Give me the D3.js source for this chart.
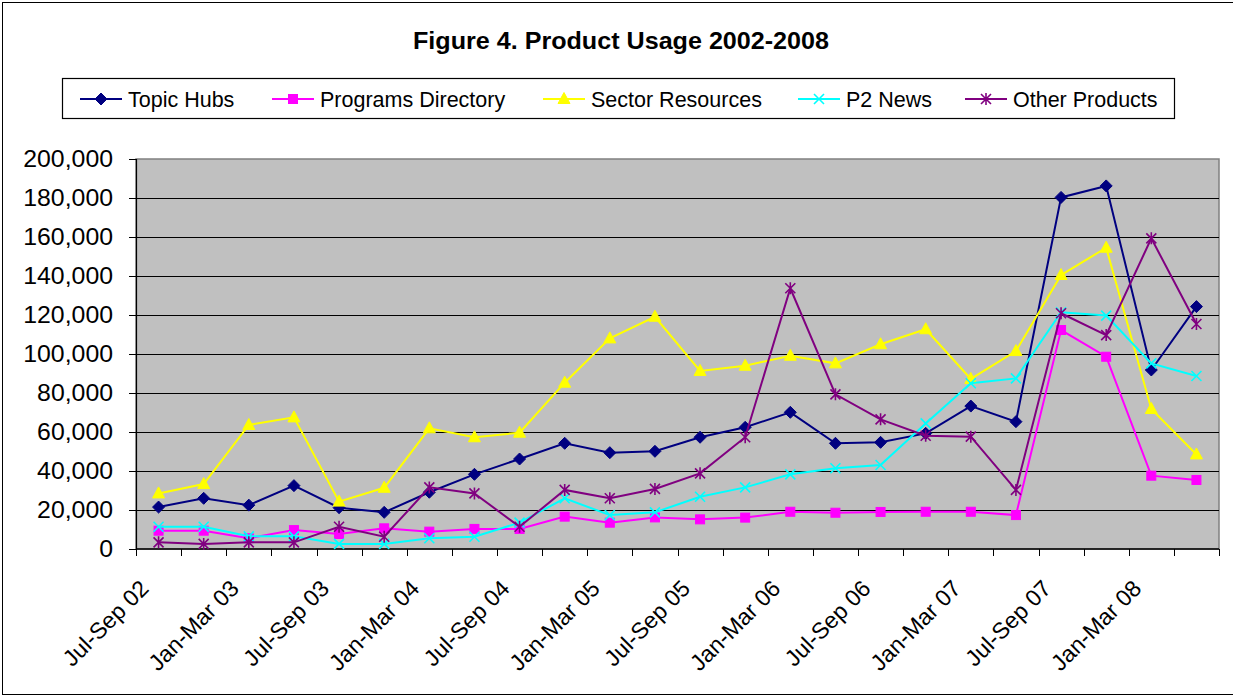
<!DOCTYPE html>
<html>
<head>
<meta charset="utf-8">
<script src="https://cdn.jsdelivr.net/npm/d3@7"></script>
<style>
  html, body { margin: 0; padding: 0; background: #fff; }
  svg { display: block; font-family: Arial, "Liberation Sans", sans-serif; }
</style>
</head>
<body>
<svg id="chart" width="1233" height="697"></svg>
<script>
const categories = [
  "Jul-Sep 02","Oct-Dec 02","Jan-Mar 03","Apr-Jun 03","Jul-Sep 03","Oct-Dec 03",
  "Jan-Mar 04","Apr-Jun 04","Jul-Sep 04","Oct-Dec 04","Jan-Mar 05","Apr-Jun 05",
  "Jul-Sep 05","Oct-Dec 05","Jan-Mar 06","Apr-Jun 06","Jul-Sep 06","Oct-Dec 06",
  "Jan-Mar 07","Apr-Jun 07","Jul-Sep 07","Oct-Dec 07","Jan-Mar 08","Apr-Jun 08"
];
const labeledCategories = categories.filter((d, i) => i % 2 === 0);

const topicHubs = [21500,26000,22500,32500,21200,18800,29100,38300,46150,54200,49400,50100,
  57300,62400,70100,54200,54700,59300,73300,65300,180300,186200,91800,124300];
const programsDirectory = [9400,9400,5500,9700,7700,10600,8900,10300,10300,16600,13500,16200,
  15200,16100,19100,18600,19000,19100,19100,17400,112300,98600,37600,35400];
const sectorResources = [28500,33300,63600,67500,24300,31400,61900,57300,59650,85300,108000,119100,
  91300,94000,99100,95200,105000,112700,87200,101500,140500,154500,71800,48500];
const p2News = [11400,11400,6500,6500,2600,2600,5500,6300,13500,26000,17400,18800,
  26800,31600,38300,41400,43100,64400,85000,87500,121400,119700,95200,88700];
const otherProducts = [3400,2600,3400,3400,11400,6300,31600,28500,11400,30300,26000,30800,
  38800,57300,133700,79300,66500,58100,57600,30300,120900,109700,159300,115400];

const yTicks = [0,20000,40000,60000,80000,100000,120000,140000,160000,180000,200000];

const seriesNames = ["Topic Hubs","Programs Directory","Sector Resources","P2 News","Other Products"];
const seriesColors = ["#000080","#FF00FF","#FFFF00","#00FFFF","#800080"];
const seriesMarkers = ["diamond","square","triangle","x","star"];
const seriesValues = [topicHubs, programsDirectory, sectorResources, p2News, otherProducts];

const title = "Figure 4. Product Usage 2002-2008";

const svg = d3.select("#chart");
const plot = {left: 136, right: 1219, top: 159, bottom: 549};

// outer frame
svg.append("rect").attr("x", 2.5).attr("y", 2.5).attr("width", 1240).attr("height", 692)
  .attr("fill", "#fff").attr("stroke", "#000").attr("stroke-width", 1);

// title
svg.append("text").attr("x", 621).attr("y", 49).attr("text-anchor", "middle")
  .attr("font-size", 24).attr("font-weight", "bold")
  .attr("textLength", 416).attr("lengthAdjust", "spacingAndGlyphs").text(title);

const x = d3.scaleBand().domain(categories).range([plot.left, plot.right]).paddingInner(0).paddingOuter(0);
const y = d3.scaleLinear().domain([0, 200000]).range([plot.bottom, plot.top]);

// plot area
svg.append("rect").attr("x", plot.left).attr("y", plot.top)
  .attr("width", plot.right - plot.left).attr("height", plot.bottom - plot.top)
  .attr("fill", "#C0C0C0").attr("stroke", "#808080").attr("stroke-width", 1.5);

// gridlines
svg.append("g").selectAll("line").data(yTicks.filter(v => v > 0 && v < 200000)).join("line")
  .attr("x1", plot.left).attr("x2", plot.right)
  .attr("y1", d => Math.round(y(d)) + 0.5).attr("y2", d => Math.round(y(d)) + 0.5)
  .attr("stroke", "#000").attr("stroke-width", 1.2);

// y axis
const yAxis = d3.axisLeft(y).tickValues(yTicks).tickSize(7).tickPadding(16)
  .tickFormat(d3.format(","));
const gy = svg.append("g").attr("transform", `translate(${plot.left},0)`).call(yAxis);
gy.select(".domain").attr("stroke", "#000").attr("stroke-width", 1.2);
gy.selectAll(".tick line").attr("stroke", "#000");
gy.selectAll(".tick text").attr("font-size", 23).attr("fill", "#000")
  .attr("font-family", "Arial, 'Liberation Sans', sans-serif")
  .attr("x", 0).attr("transform", "translate(-23,0) scale(1.08,1)");

// x axis: ticks at category boundaries
const boundaries = d3.range(categories.length + 1).map(i => plot.left + i * x.bandwidth());
const gx = svg.append("g");
gx.append("line").attr("x1", plot.left).attr("x2", plot.right)
  .attr("y1", plot.bottom).attr("y2", plot.bottom).attr("stroke", "#000").attr("stroke-width", 1.5);
gx.selectAll("line.tk").data(boundaries).join("line").attr("class", "tk")
  .attr("x1", d => Math.round(d) + 0.5).attr("x2", d => Math.round(d) + 0.5)
  .attr("y1", plot.bottom).attr("y2", plot.bottom + 7).attr("stroke", "#000");
gx.selectAll("text").data(labeledCategories).join("text")
  .attr("transform", d => `translate(${x(d) + x.bandwidth() / 2 - 8.5},${plot.bottom + 41}) rotate(-45)`)
  .attr("text-anchor", "end").attr("font-size", 23).attr("fill", "#000").text(d => d);

// lines & markers
const cx = c => x(c) + x.bandwidth() / 2;
const line = d3.line().x((d, i) => cx(categories[i])).y(d => y(d));

function drawMarker(g, type, color, px, py) {
  const s = 5;
  if (type === "diamond") {
    g.append("path").attr("d", `M${px},${py - s - 1}L${px + s + 1},${py}L${px},${py + s + 1}L${px - s - 1},${py}Z`)
      .attr("fill", color).attr("stroke", color);
  } else if (type === "square") {
    g.append("rect").attr("x", px - 4.5).attr("y", py - 4.5).attr("width", 9).attr("height", 9)
      .attr("fill", color).attr("stroke", color);
  } else if (type === "triangle") {
    g.append("path").attr("d", `M${px},${py - 6.5}L${px + 6},${py + 4.5}L${px - 6},${py + 4.5}Z`)
      .attr("fill", color).attr("stroke", color);
  } else if (type === "x") {
    g.append("path").attr("d", `M${px - s},${py - s}L${px + s},${py + s}M${px - s},${py + s}L${px + s},${py - s}`)
      .attr("stroke", color).attr("stroke-width", 1.6).attr("fill", "none");
  } else if (type === "star") {
    g.append("path").attr("d", `M${px - s},${py - s}L${px + s},${py + s}M${px - s},${py + s}L${px + s},${py - s}M${px},${py - s - 1}L${px},${py + s + 1}`)
      .attr("stroke", color).attr("stroke-width", 1.6).attr("fill", "none");
  }
}

seriesValues.forEach((vals, si) => {
  const g = svg.append("g");
  g.append("path").datum(vals).attr("d", line).attr("fill", "none")
    .attr("stroke", seriesColors[si]).attr("stroke-width", 2);
  vals.forEach((v, i) => drawMarker(g, seriesMarkers[si], seriesColors[si], cx(categories[i]), y(v)));
});

// legend
const legend = svg.append("g");
legend.append("rect").attr("x", 62.5).attr("y", 78.5).attr("width", 1112).attr("height", 40)
  .attr("fill", "#fff").attr("stroke", "#000").attr("stroke-width", 1.2);
const legendX = [80, 272, 543, 798, 965];
seriesNames.forEach((name, i) => {
  const lx = legendX[i], ly = 99;
  legend.append("line").attr("x1", lx).attr("x2", lx + 42).attr("y1", ly).attr("y2", ly)
    .attr("stroke", seriesColors[i]).attr("stroke-width", 2);
  drawMarker(legend, seriesMarkers[i], seriesColors[i], lx + 21, ly);
  legend.append("text").attr("x", lx + 48).attr("y", ly + 8)
    .attr("font-size", 21.5).attr("fill", "#000").text(name);
});
</script>
</body>
</html>
